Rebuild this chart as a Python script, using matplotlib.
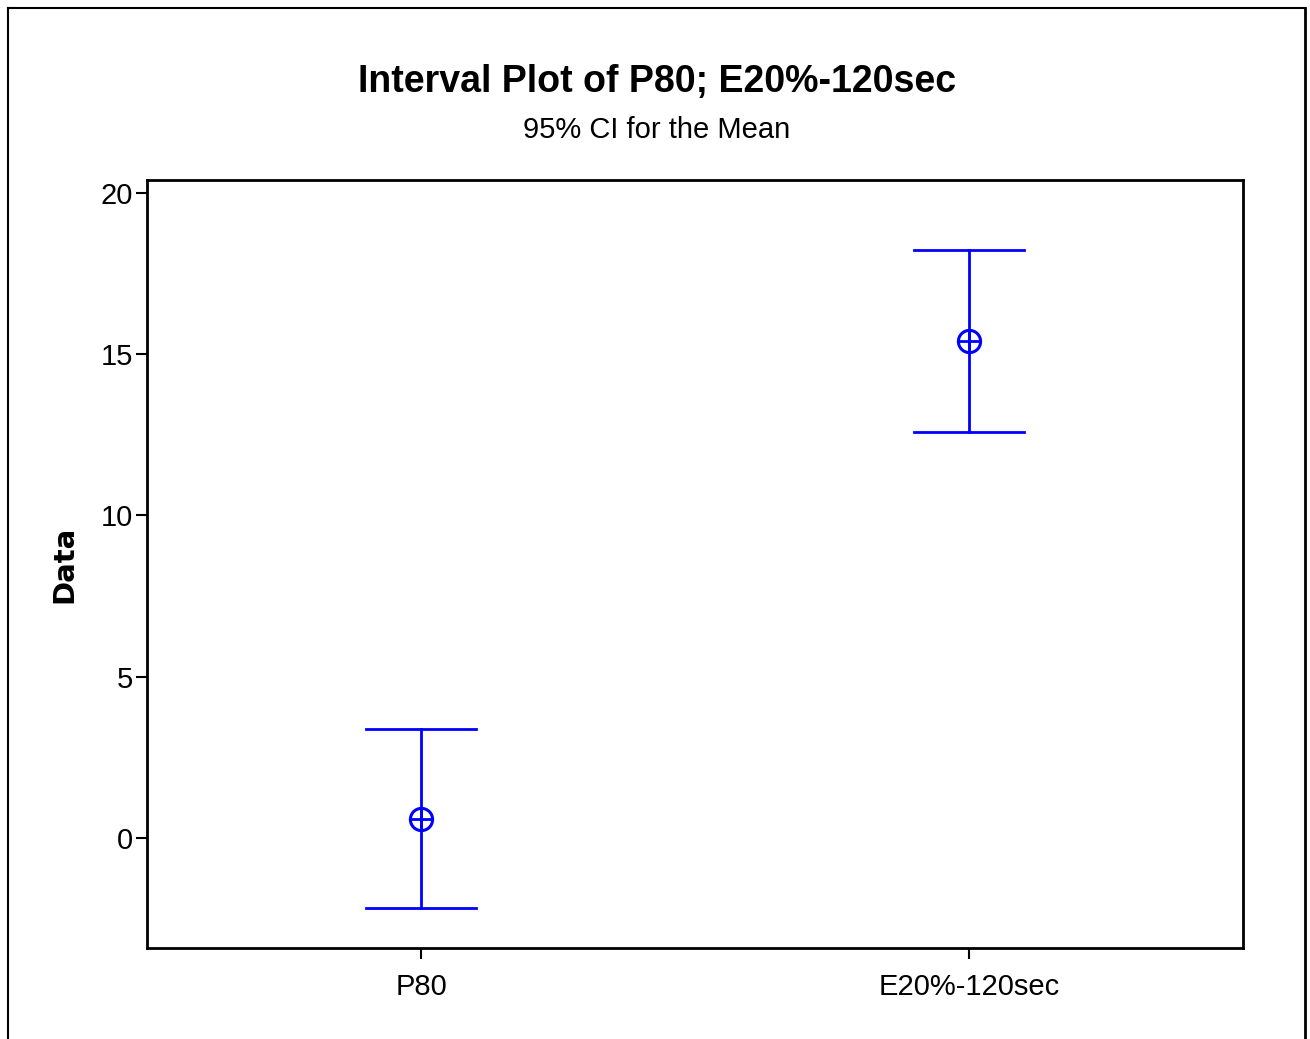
import matplotlib
matplotlib.use("Agg")
import matplotlib.pyplot as plt
from matplotlib.lines import Line2D
from matplotlib import font_manager

categories = ["P80", "E20%-120sec"]
means = [0.59, 15.41]
lower = [-2.17, 12.59]
upper = [3.38, 18.23]
yticks = [0, 5, 10, 15, 20]

names = {f.name for f in font_manager.fontManager.ttflist}
narrow = "Liberation Sans Narrow" if "Liberation Sans Narrow" in names else "Liberation Sans"
nfont = dict(family=narrow, stretch='condensed')

W, H = 1310, 1039
fig = plt.figure(figsize=(W/100, H/100), dpi=100)
ax = fig.add_axes([147/W, 1-948/H, (1243-147)/W, (948-180)/H])

blue = "#0000FF"
x = list(range(len(categories)))
for xi, m, lo, hi in zip(x, means, lower, upper):
    ax.plot([xi, xi], [lo, hi], color=blue, lw=2)
    ax.plot([xi-0.1, xi+0.1], [hi, hi], color=blue, lw=2)
    ax.plot([xi-0.1, xi+0.1], [lo, lo], color=blue, lw=2)
    ax.plot([xi], [m], marker='o', ms=16, mfc='none', mec=blue, mew=2.2)
    ax.plot([xi], [m], marker='+', ms=16, mec=blue, mew=2)

ax.set_xlim(-0.5, 1.5)
ax.set_ylim(-3.41, 20.4)
ax.set_xticks(x)
ax.set_xticklabels(categories)
ax.set_yticks(yticks)
for lab in ax.get_xticklabels() + ax.get_yticklabels():
    lab.set_fontfamily(narrow)
    lab.set_fontstretch('condensed')
    lab.set_fontsize(21)
ax.tick_params(direction='out', length=8, width=1.5, pad=2)
ax.tick_params(axis='x', pad=10)
for s in ax.spines.values():
    s.set_linewidth(2)

ax.set_ylabel("Data", fontsize=21, fontweight='bold', fontfamily='DejaVu Sans', labelpad=16)

fig.text(657/W, 1-82/H, "Interval Plot of P80; E20%-120sec", ha='center', va='center',
         fontsize=27, fontweight='bold', **nfont)
fig.text(657/W, 1-130/H, "95% CI for the Mean", ha='center', va='center',
         fontsize=21, **nfont)

# outer frame (bottom edge runs off the image)
fig.add_artist(Line2D([8/W, 8/W], [0, 1-8/H], transform=fig.transFigure, color='black', lw=1.5))
fig.add_artist(Line2D([8/W, 1305/W], [1-8/H, 1-8/H], transform=fig.transFigure, color='black', lw=1.5))
fig.add_artist(Line2D([1305/W, 1305/W], [0, 1-8/H], transform=fig.transFigure, color='black', lw=2))

fig.savefig("out.png", dpi=100)
